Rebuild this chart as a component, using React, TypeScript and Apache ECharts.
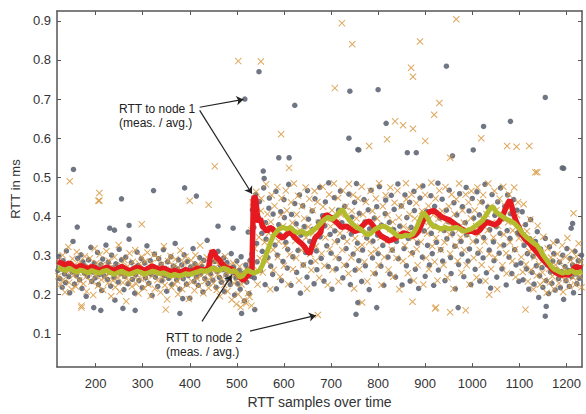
import React, { useEffect, useRef } from "react";
import * as echarts from "echarts";

const xTicks = [200, 300, 400, 500, 600, 700, 800, 900, 1000, 1100, 1200];
const yTicks = [0.1, 0.2, 0.3, 0.4, 0.5, 0.6, 0.7, 0.8, 0.9];

// Node 1 measurements (gray dots)
const node1Meas: number[][] = [
[120,.262],[122,.298],[124,.241],[127,.275],[129,.219],[131,.287],[134,.253],[136,.231],[138,.312],[141,.268],[143,.246],[145,.205],[148,.279],[150,.258],[152,.336],[155,.227],[157,.271],[159,.249],[162,.293],[164,.264],[166,.238],[169,.302],[171,.216],[173,.284],[176,.255],[178,.273],[180,.196],[183,.247],[185,.289],[187,.262],[190,.321],[192,.234],[194,.258],[197,.281],[199,.243],[201,.269],[204,.308],[206,.226],[208,.252],[211,.277],[213,.211],[215,.291],[218,.248],[220,.265],[222,.327],[225,.239],[227,.283],[229,.257],[232,.222],[234,.301],[236,.268],[239,.244],[241,.186],[243,.279],[246,.261],[248,.232],[250,.316],[253,.254],[255,.289],[257,.271],[260,.213],[262,.247],[264,.296],[267,.263],[269,.228],[271,.342],[274,.257],[276,.282],[278,.239],[281,.268],[283,.204],[285,.251],[288,.309],[290,.274],[292,.236],[295,.261],[297,.292],[299,.218],[302,.256],[304,.281],[306,.243],[309,.325],[311,.266],[313,.229],[316,.287],[318,.252],[320,.198],[323,.271],[325,.304],[327,.245],[330,.263],[332,.221],[334,.292],[337,.257],[339,.278],[341,.236],[344,.315],[346,.249],[348,.267],[351,.209],[353,.284],[355,.242],[358,.262],[360,.297],[362,.226],[365,.273],[367,.251],[369,.331],[372,.238],[374,.266],[376,.289],[379,.214],[381,.255],[383,.276],[386,.241],[388,.302],[390,.263],[393,.227],[395,.285],[397,.249],[400,.191],[402,.271],[404,.258],[407,.318],[409,.234],[411,.279],[414,.246],[416,.266],[418,.224],[421,.295],[423,.253],[425,.272],[428,.207],[430,.288],[432,.241],[435,.263],[437,.339],[439,.229],[442,.276],[444,.254],[446,.301],[449,.237],[451,.268],[453,.285],[456,.219],[458,.259],[460,.311],[463,.244],[465,.275],[467,.232],[470,.264],[472,.294],[474,.208],[477,.251],[479,.282],[481,.239],[484,.267],[486,.226],[488,.305],[491,.256],[493,.271],[495,.199],[498,.243],[500,.286],[502,.228],[505,.262],[507,.214],[509,.297],[512,.238],[514,.255],[516,.184],[519,.276],[521,.232],[523,.266],[526,.203],[528,.288],[530,.247],
[532,.304],[533,.417],[536,.372],[537,.243],[540,.456],[542,.331],[543,.284],[547,.395],[548,.438],[550,.262],[553,.357],[554,.311],[557,.473],[560,.226],[561,.384],[562,.342],[566,.295],[568,.421],[569,.447],[572,.273],[575,.368],[576,.252],[577,.406],[581,.327],[583,.464],[584,.215],[586,.301],[589,.379],[592,.353],[593,.412],[595,.236],[598,.285],[600,.443],[601,.397],[604,.334],[607,.268],[608,.316],[610,.482],[613,.362],[615,.224],[616,.405],[619,.297],[622,.346],[623,.433],[626,.381],[627,.257],[630,.313],[633,.455],[635,.204],[636,.352],[640,.427],[641,.276],[643,.374],[646,.308],[649,.245],[650,.466],[652,.393],[655,.336],[657,.283],[660,.414],[661,.367],[664,.228],[666,.445],[669,.312],[670,.264],[673,.386],[676,.474],[677,.348],[679,.293],[682,.402],[685,.235],[687,.376],[688,.437],[691,.325],[694,.272],[695,.486],[698,.354],[700,.306],[702,.214],[705,.397],[707,.448],[708,.363],[711,.266],[714,.338],[716,.416],[717,.292],[720,.465],[723,.384],[725,.243],[726,.347],[729,.426],[732,.318],[733,.275],[736,.373],[738,.457],[741,.226],[743,.355],[744,.398],[747,.304],[750,.436],[751,.263],[754,.484],[756,.332],[759,.287],[760,.408],[763,.365],[765,.234],[767,.314],[770,.443],[772,.386],[773,.274],[776,.345],[779,.417],[781,.213],[782,.368],[785,.467],[788,.294],[789,.337],[792,.396],[794,.254],[797,.425],[799,.352],[800,.305],[803,.476],[806,.273],[807,.378],[810,.326],[812,.224],[815,.407],[816,.442],[818,.343],[821,.296],[824,.385],[825,.253],[828,.454],[830,.314],[833,.366],[834,.418],[837,.245],[839,.336],[842,.483],[843,.292],[846,.375],[849,.427],[851,.225],[852,.356],[855,.318],[857,.455],[860,.274],[861,.397],[864,.344],[867,.436],[868,.235],[870,.372],[873,.307],[876,.464],[877,.415],[879,.265],[882,.357],[884,.332],[886,.216],[889,.447],[891,.386],[894,.296],[895,.478],[898,.363],[900,.247],[903,.413],[905,.326],[906,.394],[909,.276],[912,.453],[913,.357],[915,.305],[918,.224],[920,.426],[921,.375],[924,.334],[927,.485],[928,.263],[931,.396],[933,.315],[936,.444],[937,.286],[940,.364],[942,.236],[945,.416],[946,.343],[949,.387],[951,.467],[954,.295],[955,.254],[958,.356],[961,.435],[963,.324],[964,.215],[967,.404],[970,.376],[971,.277],[973,.458],[976,.336],[978,.304],[979,.425],[982,.246],[985,.384],[987,.474],[988,.353],[991,.286],[993,.414],[994,.317],[997,.226],[1000,.446],[1001,.364],[1003,.396],[1006,.265],[1009,.337],[1010,.463],[1012,.306],[1015,.404],[1016,.235],[1018,.375],[1021,.437],[1023,.294],[1024,.346],[1027,.482],[1030,.256],[1031,.387],[1033,.424],[1036,.314],[1037,.366],[1039,.217],[1042,.456],[1045,.335],[1046,.287],[1048,.403],[1051,.374],[1052,.245],[1054,.437],[1057,.306],[1059,.357],[1060,.473],[1063,.266],[1066,.395],[1067,.327],[1069,.426],[1072,.225],[1074,.364],[1075,.455],[1078,.296],[1080,.344],[1081,.407],[1084,.254],[1087,.386],[1088,.443],[1090,.315],[1093,.276],[1095,.416],[1096,.358],[1099,.234],
[1101,.354],[1103,.281],[1106,.412],[1108,.238],[1110,.326],[1113,.379],[1115,.266],[1117,.305],[1120,.214],[1122,.343],[1124,.392],[1127,.257],[1129,.298],[1131,.227],[1134,.336],[1136,.274],[1138,.361],[1141,.193],[1143,.248],[1145,.317],[1148,.269],[1150,.219],[1152,.291],[1155,.344],[1157,.236],[1159,.276],[1162,.203],[1164,.322],[1166,.258],[1169,.229],[1171,.286],[1173,.305],[1176,.212],[1178,.264],[1180,.337],[1183,.241],[1185,.283],[1187,.218],[1190,.259],[1192,.301],[1194,.188],[1197,.272],[1199,.236],[1201,.318],[1204,.262],[1206,.221],[1208,.293],[1211,.246],[1213,.276],[1215,.205],[1218,.311],[1220,.253],[1222,.228],[1225,.287],[1227,.242],[1229,.269],[1232,.301],
[153,.52],[255,.445],[323,.466],[389,.473],[414,.452],[547,.77],[517,.70],[623,.684],[589,.55],[611,.55],[556,.516],[558,.497],[740,.72],[800,.724],[945,.784],[1155,.704],[817,.638],[1024,.63],[1081,.643],[738,.60],[757,.571],[1191,.524],[862,.563],[881,.563],[1002,.57],[958,.555],[196,.167],[211,.16],[258,.165],[284,.16],[379,.152],[385,.19],[538,.162],[510,.152],[161,.373],[271,.377],[230,.37],[240,.365],[460,.375],[492,.37],[524,.36],[753,.15],[797,.167],[757,.18],[970,.167],[1155,.145],[1157,.17],[1194,.523],[1213,.382],[1210,.37],[759,.57]
];

// Node 2 measurements (orange crosses)
const node2Meas: number[][] = [
[121,.247],[123,.283],[125,.226],[128,.268],[130,.301],[132,.239],[135,.206],[137,.274],[139,.258],[142,.322],[144,.231],[146,.265],[149,.214],[151,.292],[153,.249],[156,.277],[158,.221],[160,.309],[163,.256],[165,.237],[167,.284],[170,.172],[172,.263],[174,.228],[177,.298],[179,.245],[181,.208],[184,.272],[186,.254],[188,.293],[191,.234],[193,.266],[195,.199],[198,.318],[200,.248],[202,.281],[205,.223],[207,.259],[209,.303],[212,.238],[214,.276],[216,.212],[219,.264],[221,.246],[223,.311],[226,.229],[228,.287],[230,.255],[233,.196],[235,.271],[237,.236],[240,.296],[242,.219],[244,.262],[247,.244],[249,.327],[251,.208],[254,.275],[256,.252],[258,.231],[261,.289],[263,.248],[265,.183],[268,.273],[270,.235],[272,.306],[275,.257],[277,.221],[279,.284],[282,.246],[284,.314],[286,.228],[289,.266],[291,.203],[293,.279],[296,.241],[298,.297],[300,.253],[303,.217],[305,.285],[307,.244],[310,.308],[312,.226],[314,.262],[317,.197],[319,.281],[321,.249],[324,.302],[326,.215],[328,.268],[331,.237],[333,.293],[335,.256],[338,.206],[340,.277],[342,.243],[345,.324],[347,.224],[349,.264],[352,.188],[354,.286],[356,.247],[359,.299],[361,.219],[363,.258],[366,.274],[368,.227],[370,.291],[373,.236],[375,.201],[377,.268],[380,.313],[382,.245],[384,.214],[387,.283],[389,.252],[391,.297],[394,.226],[396,.266],[398,.189],[401,.254],[403,.288],[405,.233],[408,.271],[410,.211],[412,.301],[415,.242],[417,.276],[419,.222],[422,.326],[424,.248],[426,.281],[429,.204],[431,.262],[433,.235],[436,.296],[438,.254],[440,.217],[443,.273],[445,.244],[447,.306],[450,.229],[452,.262],[454,.286],[457,.212],[459,.251],[461,.278],[464,.196],[466,.289],[468,.241],[471,.267],[473,.225],[475,.298],[478,.256],[480,.209],[482,.274],[485,.238],[487,.262],[489,.187],[492,.281],[494,.229],[496,.252],[499,.176],[501,.243],[503,.201],[506,.272],[508,.168],[510,.226],[513,.251],[515,.185],[517,.236],[520,.178],[522,.262],[524,.204],[527,.194],[529,.276],[531,.172],
[531,.365],[534,.436],[535,.274],[538,.318],[541,.463],[542,.394],[544,.226],[547,.347],[549,.293],[551,.414],[552,.446],[555,.257],[558,.376],[559,.334],[562,.482],[564,.285],[565,.406],[568,.357],[571,.214],[572,.386],[574,.454],[577,.315],[578,.263],[580,.427],[583,.364],[586,.475],[587,.296],[589,.336],[592,.246],[594,.404],[595,.447],[598,.375],[600,.274],[603,.325],[604,.466],[606,.415],[609,.227],[611,.354],[612,.303],[615,.436],[618,.384],[619,.265],[621,.484],[624,.337],[626,.294],[627,.405],[630,.453],[632,.236],[634,.365],[637,.314],[638,.426],[641,.276],[643,.395],[646,.474],[647,.346],[649,.215],[652,.373],[654,.445],[656,.304],[658,.263],[661,.416],[662,.357],[665,.465],[667,.286],[668,.324],[671,.437],[674,.384],[675,.243],[677,.366],[680,.305],[682,.476],[683,.425],[686,.274],[688,.346],[690,.394],[693,.225],[696,.456],[697,.317],[699,.374],[702,.416],[703,.264],[706,.484],[708,.335],[710,.296],[713,.386],[715,.447],[716,.234],[719,.357],[721,.405],[724,.314],[725,.466],[728,.276],[730,.373],[731,.425],[734,.336],[737,.254],[738,.483],[740,.366],[743,.295],[744,.414],[747,.455],[749,.216],[751,.344],[754,.395],[756,.316],[757,.446],[760,.265],[762,.374],[765,.476],[766,.327],[768,.405],[771,.284],[773,.356],[774,.437],[777,.234],[779,.386],[781,.335],[784,.465],[785,.306],[788,.414],[790,.255],[792,.364],[795,.446],[796,.315],[798,.394],[801,.276],[802,.485],[805,.346],[807,.225],[810,.426],[811,.374],[813,.296],[816,.454],[818,.336],[820,.404],[822,.264],[825,.367],[826,.474],[829,.315],[831,.386],[832,.246],[835,.435],[837,.346],[839,.294],[841,.466],[844,.397],[845,.214],[848,.355],[850,.426],[853,.286],[854,.374],[857,.326],[859,.485],[860,.444],[863,.255],[865,.367],[867,.405],[870,.304],[871,.456],[874,.345],[876,.236],[878,.395],[881,.434],[882,.316],[884,.275],[887,.476],[889,.364],[891,.335],[893,.414],[896,.226],[897,.386],[900,.455],[902,.294],[904,.356],[907,.427],[908,.265],[911,.375],[913,.486],[915,.324],[917,.404],[920,.284],[922,.446],[923,.345],[926,.236],[928,.394],[930,.466],[933,.315],[934,.366],[936,.414],[939,.276],[941,.334],[943,.475],[945,.386],[947,.244],[950,.426],[952,.354],[953,.305],[956,.456],[958,.374],[960,.215],[962,.406],[965,.325],[966,.444],[969,.286],[971,.365],[972,.484],[975,.346],[977,.256],[979,.415],[982,.384],[983,.314],[986,.456],[988,.275],[990,.354],[992,.436],[994,.226],[997,.395],[998,.465],[1001,.336],[1003,.294],[1005,.416],[1008,.375],[1009,.244],[1011,.474],[1014,.355],[1016,.314],[1017,.436],[1020,.276],[1022,.394],[1023,.455],[1026,.336],[1028,.235],[1030,.406],[1033,.365],[1034,.484],[1036,.304],[1039,.425],[1040,.266],[1042,.384],[1045,.346],[1047,.465],[1048,.295],[1051,.416],[1053,.214],[1055,.376],[1058,.445],[1059,.326],[1061,.394],[1064,.275],[1066,.476],[1067,.354],[1070,.426],[1072,.306],[1073,.254],[1076,.385],[1078,.456],[1080,.334],[1082,.415],[1085,.286],[1086,.364],[1089,.474],[1091,.316],[1092,.245],[1095,.404],[1097,.436],[1099,.344],
[1102,.372],[1104,.296],[1107,.258],[1109,.431],[1111,.338],[1114,.277],[1116,.362],[1118,.234],[1121,.311],[1123,.392],[1125,.263],[1128,.342],[1130,.214],[1132,.296],[1135,.323],[1137,.249],[1139,.376],[1142,.278],[1144,.226],[1146,.307],[1149,.257],[1151,.348],[1153,.236],[1156,.284],[1158,.205],[1160,.318],[1163,.266],[1165,.231],[1167,.295],[1170,.247],[1172,.332],[1174,.214],[1177,.276],[1179,.259],[1181,.304],[1184,.229],[1186,.286],[1188,.247],[1191,.326],[1193,.207],[1195,.268],[1198,.296],[1200,.238],[1202,.345],[1205,.259],[1207,.221],[1209,.288],[1212,.312],[1214,.244],[1216,.274],[1219,.226],[1221,.298],[1223,.262],[1226,.331],[1228,.247],[1230,.283],[1232,.219],
[145,.49],[208,.46],[208,.44],[453,.528],[503,.797],[551,.796],[594,.61],[611,.524],[723,.894],[745,.84],[889,.847],[966,.904],[870,.78],[874,.757],[708,.728],[930,.69],[919,.66],[836,.643],[853,.633],[874,.624],[1019,.60],[819,.597],[900,.593],[781,.58],[1074,.58],[1094,.578],[1121,.58],[1138,.513],[953,.55],[170,.167],[349,.162],[206,.44],[298,.38],[400,.44],[440,.43],[672,.148],[953,.155],[921,.165],[986,.16],[1036,.20],[1113,.162],[1215,.408],[766,.18],[873,.182],[923,.167],[1134,.513]
];

// Node 1 moving average (red)
const node1Avg: number[][] = [
[120,.285],[128,.280],[136,.276],[144,.281],[152,.272],[160,.268],[168,.275],[176,.270],[184,.266],[192,.272],[200,.268],[208,.262],[216,.266],[224,.271],[232,.265],[240,.262],[248,.268],[256,.272],[264,.266],[272,.261],[280,.265],[288,.270],[296,.267],[304,.262],[312,.268],[320,.273],[328,.269],[336,.264],[344,.268],[352,.263],[360,.258],[368,.262],[376,.256],[384,.260],[392,.264],[400,.259],[408,.262],[416,.268],[424,.265],[432,.262],[440,.270],[444,.300],[448,.312],[452,.308],[456,.296],[462,.290],[468,.280],[474,.272],[480,.268],[488,.266],[496,.260],[502,.252],[508,.243],[514,.236],[520,.245],[526,.252],[532,.258],
[535,.440],[537,.452],[540,.445],[543,.410],[546,.385],[550,.395],[554,.375],[558,.370],[564,.362],[570,.372],[576,.368],[582,.358],[590,.350],[598,.345],[606,.355],[614,.360],[622,.348],[630,.338],[638,.330],[644,.322],[650,.310],[655,.305],[660,.325],[666,.345],[672,.352],[678,.360],[684,.395],[690,.405],[696,.400],[704,.392],[712,.385],
[722,.372],[732,.375],[742,.368],[750,.362],[758,.365],[766,.375],[774,.385],[782,.388],[790,.375],[798,.362],[806,.350],[814,.345],[822,.338],[830,.340],[838,.345],[846,.352],[854,.358],[862,.355],[870,.350],[878,.352],[886,.362],[894,.385],[902,.405],[910,.412],[918,.415],[926,.408],[934,.400],[942,.395],[950,.392],[958,.385],[966,.378],[974,.370],[982,.365],[990,.362],
[1000,.362],[1008,.358],[1016,.365],[1024,.378],[1032,.385],[1040,.382],[1048,.378],[1056,.385],[1064,.400],[1070,.418],[1076,.435],[1080,.442],[1084,.425],[1088,.405],[1094,.385],[1100,.370],[1106,.352],[1112,.342],[1118,.335],[1124,.328],[1130,.318],[1136,.310],[1142,.302],[1148,.292],[1154,.285],[1160,.278],[1166,.270],[1172,.262],[1178,.256],[1184,.252],[1190,.250],[1196,.252],[1202,.250],[1208,.255],[1214,.265],[1220,.272],[1226,.270],[1233,.268]
];

// Node 2 moving average (olive)
const node2Avg: number[][] = [
[120,.270],[128,.265],[136,.262],[144,.268],[152,.262],[160,.258],[168,.263],[176,.260],[184,.256],[192,.262],[200,.258],[208,.255],[216,.260],[224,.262],[232,.256],[240,.252],[248,.257],[256,.260],[264,.255],[272,.252],[280,.256],[288,.260],[296,.257],[304,.253],[312,.256],[320,.260],[328,.258],[336,.254],[344,.256],[352,.252],[360,.248],[368,.252],[376,.248],[384,.250],[392,.254],[400,.252],[408,.255],[416,.258],[424,.262],[432,.260],[440,.262],[448,.268],[456,.265],[464,.262],[472,.268],[480,.265],[488,.258],[494,.262],[500,.256],[506,.245],[512,.248],[518,.258],[524,.262],[530,.258],[536,.255],[542,.258],[548,.262],[554,.275],[560,.295],[566,.315],[572,.335],[578,.352],[584,.360],[590,.368],[598,.372],[606,.368],[614,.372],[622,.362],[630,.358],[638,.362],[646,.355],[654,.358],[662,.365],[670,.372],[678,.382],[686,.392],[694,.398],[702,.392],[710,.400],[718,.412],[724,.418],[730,.405],[738,.392],[746,.380],[754,.372],[762,.368],[770,.360],[778,.352],[786,.358],[794,.368],[802,.372],[810,.375],[818,.372],[826,.365],[834,.358],[842,.350],[850,.348],[858,.352],[866,.350],[874,.355],[882,.372],[890,.395],[896,.410],[902,.402],[910,.385],[918,.375],[926,.372],[934,.368],[942,.372],[950,.368],[958,.370],[966,.372],[974,.368],[982,.362],[990,.365],[998,.368],[1006,.375],[1014,.382],[1022,.390],[1030,.405],[1038,.420],[1044,.425],[1050,.412],[1058,.405],[1066,.398],[1074,.392],[1082,.388],[1090,.382],[1098,.372],[1106,.358],[1114,.348],[1122,.340],[1130,.332],[1138,.325],[1144,.315],[1150,.302],[1156,.292],[1162,.282],[1168,.272],[1174,.265],[1180,.262],[1186,.258],[1192,.255],[1198,.258],[1204,.256],[1210,.262],[1216,.258],[1222,.255],[1228,.258],[1233,.260]
];

// Annotation arrows in data coordinates: [x1, y1, x2, y2]
const arrows: number[][] = [
  [421, 0.679, 514, 0.699],
  [421, 0.671, 532, 0.458],
  [426, 0.132, 489, 0.25],
  [528, 0.107, 668, 0.147],
];

const FONT = "'Liberation Sans', Arial, Helvetica, sans-serif";
const CROSS = "path://M1,0L5,4L9,0L10,1L6,5L10,9L9,10L5,6L1,10L0,9L4,5L0,1Z";

export default function App() {
  const ref = useRef<HTMLDivElement>(null);
  useEffect(() => {
    if (!ref.current) return;
    const chart = echarts.init(ref.current, undefined, { renderer: "svg" });
    const axisLine = { show: true, onZero: false, lineStyle: { color: "#555", width: 1.5 } };
    const tickStyle = { lineStyle: { color: "#555", width: 1 } };
    chart.setOption({
      animation: false,
      backgroundColor: "#fff",
      textStyle: { fontFamily: FONT },
      grid: { left: 57, right: 4, top: 11, bottom: 40 },
      xAxis: [
        {
          type: "value", min: 118, max: 1233, position: "bottom",
          axisLine,
          axisTick: { show: true, inside: true, length: 4, customValues: xTicks, ...tickStyle },
          axisLabel: { customValues: xTicks, color: "#333", fontSize: 13, margin: 10, fontFamily: FONT, formatter: (v: number) => String(v) },
          splitLine: { show: false },
          name: "RTT samples over time", nameLocation: "middle", nameGap: 27,
          nameTextStyle: { color: "#333", fontSize: 14, fontFamily: FONT },
        },
        {
          type: "value", min: 118, max: 1233, position: "top",
          axisLine,
          axisTick: { show: true, inside: true, length: 4, customValues: xTicks, ...tickStyle },
          axisLabel: { show: false },
          splitLine: { show: false },
        },
      ],
      yAxis: [
        {
          type: "value", min: 0.015, max: 0.925, position: "left",
          axisLine,
          axisTick: { show: true, inside: true, length: 4, customValues: yTicks, ...tickStyle },
          axisLabel: { customValues: yTicks, color: "#333", fontSize: 13, margin: 6, fontFamily: FONT, formatter: (v: number) => v.toFixed(1) },
          splitLine: { show: false },
          name: "RTT in ms", nameLocation: "middle", nameGap: 32,
          nameTextStyle: { color: "#333", fontSize: 13, fontFamily: FONT },
        },
        {
          type: "value", min: 0.015, max: 0.925, position: "right",
          axisLine,
          axisTick: { show: true, inside: true, length: 4, customValues: yTicks, ...tickStyle },
          axisLabel: { show: false },
          splitLine: { show: false },
        },
      ],
      series: [
        {
          type: "scatter", name: "node1 meas", data: node1Meas,
          symbol: "circle", symbolSize: 5.5,
          itemStyle: { color: "#626777", opacity: 0.9 },
          z: 2,
        },
        {
          type: "scatter", name: "node2 meas", data: node2Meas,
          symbol: CROSS, symbolSize: 7,
          itemStyle: { color: "#d8983f", opacity: 0.85 },
          z: 3,
        },
        {
          type: "line", name: "node1 avg", data: node1Avg,
          showSymbol: false, symbol: "none",
          lineStyle: { color: "#e5191f", width: 5.5 },
          z: 4,
        },
        {
          type: "line", name: "node2 avg", data: node2Avg,
          showSymbol: false, symbol: "none",
          lineStyle: { color: "#b4bb2c", width: 5 },
          z: 5,
          markLine: {
            silent: true,
            symbol: ["none", "arrow"],
            symbolSize: 7,
            label: { show: false },
            lineStyle: { type: "solid", color: "#222", width: 1.2 },
            data: arrows.map((a) => [
              { coord: [a[0], a[1]] },
              { coord: [a[2], a[3]] },
            ]),
          },
        },
      ],
      graphic: [
        {
          type: "text", left: 119, top: 102,
          style: { text: "RTT to node 1\n(meas. / avg.)", fill: "#222", font: `12px ${FONT}`, lineHeight: 14 },
        },
        {
          type: "text", left: 166, top: 331,
          style: { text: "RTT to node 2\n(meas. / avg.)", fill: "#222", font: `12px ${FONT}`, lineHeight: 14 },
        },
      ],
    });
    return () => chart.dispose();
  }, []);
  return <div ref={ref} style={{ position: "absolute", left: 0, top: 0, width: 586, height: 414 }} />;
}
